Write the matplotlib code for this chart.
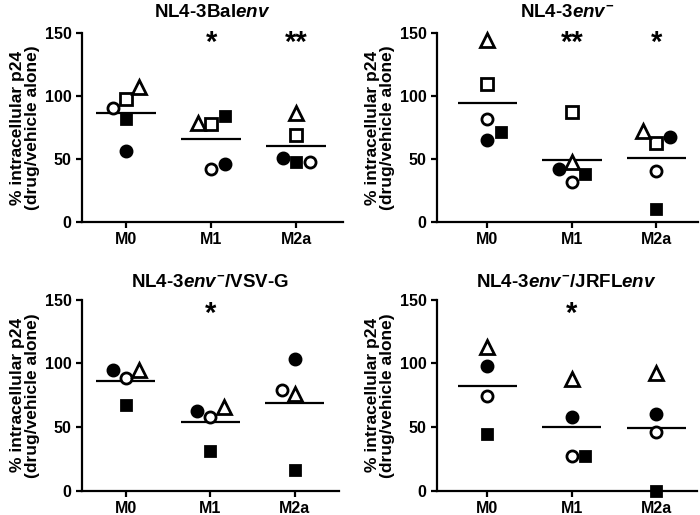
import numpy as np
import matplotlib
matplotlib.use('Agg')
import matplotlib.pyplot as plt

plt.rcParams['font.family'] = ['Liberation Sans', 'DejaVu Sans']
plt.rcParams['font.weight'] = 'bold'
plt.rcParams['mathtext.fontset'] = 'custom'
plt.rcParams['mathtext.rm'] = 'Liberation Sans:bold'
plt.rcParams['mathtext.bf'] = 'Liberation Sans:bold'
plt.rcParams['mathtext.it'] = 'Liberation Sans:bold:italic'
plt.rcParams['mathtext.bfit'] = 'Liberation Sans:bold:italic'

categories = ['M0', 'M1', 'M2a']

titles = [
    r'NL4-3Bal$\mathit{env}$',
    r'NL4-3$\mathit{env}^{\mathbf{-}}$',
    r'NL4-3$\mathit{env}^{\mathbf{-}}$/VSV-G',
    r'NL4-3$\mathit{env}^{\mathbf{-}}$/JRFL$\mathit{env}$',
]

# values per donor (marker) for M0, M1, M2a
bal_env = {
    'filled_circle': [56, 46, 50.5],
    'open_circle':   [90.7, 41.8, 47.9],
    'filled_square': [82, 84, 47.4],
    'open_square':   [97.6, 77.5, 69],
    'triangle':      [107, 78.8, 86.2],
}
env_minus = {
    'filled_circle': [65, 42, 67.2],
    'open_circle':   [81.5, 32, 40.5],
    'filled_square': [71.7, 38, 10.6],
    'open_square':   [109.3, 87, 62.4],
    'triangle':      [144.4, 47.4, 72.5],
}
vsvg = {
    'filled_circle': [95, 62.8, 103.7],
    'open_circle':   [88.5, 57.6, 79.3],
    'filled_square': [67, 30.9, 16.5],
    'triangle':      [95, 65.4, 75.9],
}
jrfl = {
    'filled_circle': [98.2, 57.6, 60.2],
    'open_circle':   [74.1, 27, 45.8],
    'filled_square': [44.8, 27.5, 0],
    'triangle':      [113, 88, 92.7],
}
panel_data = [bal_env, env_minus, vsvg, jrfl]

stars = [['', '*', '**'], ['', '**', '*'], ['', '*', ''], ['', '*', '']]

# horizontal nudges (in steps) so markers don't overlap
nudges = [
    {'filled_circle': [0, 1, -1], 'open_circle': [-1, 0, 1], 'filled_square': [0, 1, 0],
     'open_square': [0, 0, 0], 'triangle': [1, -1, 0]},
    {'filled_circle': [0, -1, 1], 'open_circle': [0, 0, 0], 'filled_square': [1, 1, 0],
     'open_square': [0, 0, 0], 'triangle': [0, 0, -1]},
    {'filled_circle': [-1, -1, 0], 'open_circle': [0, 0, -1], 'filled_square': [0, 0, 0],
     'triangle': [1, 1, 0]},
    {'filled_circle': [0, 0, 0], 'open_circle': [0, 0, 0], 'filled_square': [0, 1, 0],
     'triangle': [0, 0, 0]},
]

styles = {
    'filled_circle': dict(marker='o', mfc='black', ms=8),
    'open_circle':   dict(marker='o', mfc='white', ms=8),
    'filled_square': dict(marker='s', mfc='black', ms=7.5),
    'open_square':   dict(marker='s', mfc='white', ms=8),
    'triangle':      dict(marker='^', mfc='white', ms=9.5),
}

positions = [
    [0.117, 0.569, 0.373, 0.367, (-0.52, 2.55), 11.5, 142],
    [0.624, 0.569, 0.373, 0.367, (-0.6, 2.49), 11.5, 142],
    [0.117, 0.047, 0.367, 0.371, (-0.52, 2.52), 9.5, 139],
    [0.624, 0.047, 0.371, 0.371, (-0.6, 2.48), 9.5, 139],
]

fig = plt.figure(figsize=(7, 5.15), dpi=100)
step = 0.157
x = np.arange(len(categories))

for i, data in enumerate(panel_data):
    l, b, w, h, xl, tpad, star_y = positions[i]
    ax = fig.add_axes([l, b, w, h])
    for key, vals in data.items():
        off = np.array(nudges[i][key]) * step
        ax.plot(x + off, vals, linestyle='none', mec='black', mew=2,
                clip_on=False, zorder=3, **styles[key])
    arr = np.array(list(data.values()))
    means = arr.mean(axis=0)
    for xi, m in zip(x, means):
        ax.hlines(m, xi - 0.35, xi + 0.35, color='black', lw=1.6, zorder=2)
    for xi, s in zip(x, stars[i]):
        if s:
            ax.text(xi, star_y, s, ha='center', va='center', fontsize=21, fontweight='bold')
    ax.set_xlim(*xl)
    ax.set_ylim(0, 150)
    ax.set_yticks([0, 50, 100, 150])
    ax.set_xticks(x)
    ax.set_xticklabels(categories)
    ax.spines['top'].set_visible(False)
    ax.spines['right'].set_visible(False)
    ax.spines['left'].set_linewidth(1.6)
    ax.spines['bottom'].set_linewidth(1.6)
    ax.tick_params(width=1.6, length=4, labelsize=11.5)
    ax.set_ylabel('% intracellular p24\n(drug/vehicle alone)', fontsize=12.5,
                  fontweight='bold', labelpad=3, linespacing=1.05)
    ax.set_title(titles[i], fontsize=13.5, fontweight='bold', pad=tpad)

fig.savefig('out.png', dpi=100)
